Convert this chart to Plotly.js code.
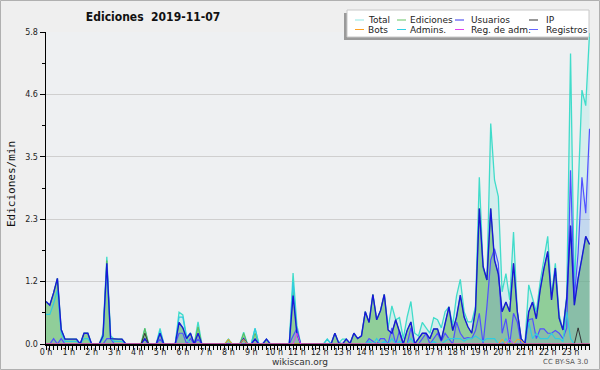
<!DOCTYPE html>
<html>
<head>
<meta charset="utf-8">
<script src="https://cdn.plot.ly/plotly-3.0.1.min.js"></script>
<style>
html,body{margin:0;padding:0;background:#efefef;}
#chart{width:600px;height:370px;}
</style>
</head>
<body>
<div id="chart"></div>
<script>
// ---- data: edits per minute, 10-minute slots, 2019-11-07 ----
var hourLabels = ["0 h","1 h","2 h","3 h","4 h","5 h","6 h","7 h","8 h","9 h","10 h","11 h",
                  "12 h","13 h","14 h","15 h","16 h","17 h","18 h","19 h","20 h","21 h","22 h","23 h"];
var yTickVals = [0, 1.16, 2.32, 3.48, 4.64, 5.8];
var yTickText = ["0.0", "1.2", "2.3", "3.5", "4.6", "5.8"];

var total = [
 0.79,0.72,0.95,1.22,0.27,0.09,  0.09,0.09,0.09,0,0.2,0.2,  0,0,0,0.2,1.62,0.15,  0.09,0.09,0.09,0,0,0,
 0,0,0.29,0,0,0,  0.29,0,0,0,0,0.59,  0.54,0.13,0.2,0,0.41,0,  0,0,0,0,0,0,
 0.09,0,0,0,0.22,0,  0,0.29,0,0,0.09,0,  0,0,0,0,0,1.32,  0.35,0,0,0,0,0,
 0,0,0.09,0,0.2,0.02,  0.09,0.09,0.01,0.2,0.1,0.15,  0.6,0.4,0.92,0.45,0.62,0.92,  0.3,0.71,0.45,0.49,0.1,0.5,
 0.79,0.2,0.15,0.4,0.3,0.2,  0.49,0.45,0.3,0.6,0.69,0.35,  0.89,1.2,0.6,0.41,0.41,0.7,  3.1,1.4,1.19,4.1,3.05,2.74,
 0.97,1.31,0.82,2.08,0.6,0.1,  0,1.1,0.85,0.6,1.15,1.55,  2.0,0.9,1.5,0.55,0.26,0.9,  5.4,1.0,2.9,4.72,4.43,5.78
];
var ediciones = [
 0.79,0.72,0.95,1.22,0.27,0.09,  0.09,0.09,0.09,0,0.2,0.2,  0,0,0,0.15,1.55,0.1,  0.09,0.09,0.09,0,0,0,
 0,0,0.29,0,0,0,  0.2,0,0,0,0,0.4,  0.3,0.1,0.2,0,0.32,0,  0,0,0,0,0,0,
 0.09,0,0,0,0.2,0,  0,0.2,0,0,0.09,0,  0,0,0,0,0,1.0,  0.25,0,0,0,0,0,
 0,0,0,0,0.2,0.02,  0,0.09,0.01,0.2,0.1,0.15,  0.6,0.4,0.92,0.45,0.62,0.92,  0.26,0.2,0.45,0.2,0,0.25,
 0.41,0,0.1,0.2,0.2,0.1,  0.28,0.28,0.07,0.4,0.69,0.25,  0.5,0.91,0.5,0.32,0.2,0.63,  2.52,1.44,1.19,2.52,1.56,1.3,
 0.6,0.78,0.6,1.5,0.6,0.1,  0,0.6,0.78,0.47,1.0,1.4,  1.72,0.82,1.41,0.48,0.26,0.85,  2.2,0.72,1.22,1.6,2.0,1.85
];
var usuarios = [
 0.79,0.72,0.95,1.22,0.27,0.09,  0.09,0.09,0.09,0,0.2,0.2,  0,0,0,0.15,1.5,0.1,  0.09,0.09,0.09,0,0,0,
 0,0,0.1,0,0,0,  0.2,0,0,0,0,0.4,  0.3,0.1,0.2,0,0.2,0,  0,0,0,0,0,0,
 0,0,0,0,0.1,0,  0,0.09,0,0,0.09,0,  0,0,0,0,0,0.9,  0.2,0,0,0,0,0,
 0,0,0,0,0.2,0.02,  0,0.09,0.01,0.2,0.1,0.15,  0.6,0.4,0.92,0.45,0.62,0.92,  0.26,0.2,0.45,0.2,0,0.25,
 0.41,0,0.1,0.2,0.2,0.1,  0.28,0.28,0.07,0.4,0.69,0.25,  0.5,0.91,0.5,0.32,0.2,0.63,  2.52,1.44,1.19,2.52,1.56,1.3,
 0.6,0.78,0.6,1.5,0.6,0.1,  0,0.6,0.78,0.47,1.0,1.4,  1.72,0.82,1.41,0.48,0.26,0.85,  2.2,0.72,1.22,1.6,2.0,1.85
];
var ip = [
 0,0,0,0,0,0,  0,0,0,0,0,0,  0,0,0,0,0,0,  0,0,0,0,0,0,
 0,0,0.2,0,0,0,  0,0,0,0,0,0,  0,0,0,0,0,0,  0,0,0,0,0,0,
 0,0,0,0,0,0,  0,0,0,0,0,0,  0,0,0,0,0,0,  0,0,0,0,0,0,
 0,0,0,0,0,0,  0,0,0,0,0,0,  0,0,0,0,0,0,  0,0,0,0,0,0,
 0,0,0,0,0,0,  0,0,0,0,0,0,  0,0,0,0,0,0,  0,0,0,0,0,0,
 0,0,0,0,0,0,  0,0,0,0,0,0,  0,0,0,0,0,0,  0,0,0.3,0,0,0
];
var bots = [
 0,0,0,0,0,0,  0,0,0,0,0,0,  0,0,0,0,0,0,  0,0,0,0,0,0,
 0,0,0,0,0,0,  0,0,0,0,0,0,  0,0,0,0,0,0,  0,0,0,0,0,0,
 0.09,0,0,0,0.09,0,  0,0,0,0,0,0,  0,0,0,0,0,0,  0,0,0,0,0,0,
 0,0,0,0,0,0,  0,0,0,0,0,0,  0,0,0,0,0,0,  0,0,0,0,0,0,
 0,0,0,0,0,0,  0,0,0,0,0,0,  0,0,0,0,0,0,  0,0,0,0,0,0,
 0.09,0,0,0,0.09,0.07,  0,0,0,0,0,0,  0,0,0,0,0,0,  0,0,0,0,0,0
];
var admins = [
 0.55,0.55,0.75,1.0,0.2,0.05,  0.05,0.05,0.05,0,0.1,0.1,  0,0,0,0.1,1.45,0.1,  0.05,0.05,0.05,0,0,0,
 0,0,0,0,0,0,  0.25,0,0,0,0,0.5,  0.5,0.1,0,0,0,0,  0,0,0,0,0,0,
 0,0,0,0,0,0,  0,0.29,0,0,0,0,  0,0,0,0,0,1.15,  0.2,0,0,0,0,0,
 0,0,0.09,0,0,0,  0,0,0,0,0,0,  0,0.05,0,0.1,0,0.05,  0,0.1,0,0.05,0,0,
 0.1,0,0,0,0,0,  0.05,0,0,0.05,0.1,0.1,  0.1,0.1,0.05,0.1,0.1,0.15,  0.1,0.05,0.1,0.1,0.1,0,
 0,0.1,0,0,0,0,  0,0.41,0.1,0.2,0.1,0.1,  0.1,0.2,0.1,0.1,0.05,0.6,  0.1,0,0,0,0,0
];
var regAdm = [
 0,0,0,0,0,0,  0,0,0,0,0,0,  0,0,0,0,0,0,  0,0,0,0,0,0,
 0,0,0,0,0,0,  0,0,0,0,0,0,  0,0,0,0,0,0,  0,0,0,0,0,0,
 0,0,0,0,0,0,  0,0,0,0,0,0,  0,0,0,0,0,0,  0.2,0,0,0,0,0,
 0,0,0,0,0,0,  0,0,0,0,0,0,  0,0,0,0,0,0,  0,0,0,0,0,0,
 0,0,0,0,0,0,  0,0,0,0,0,0,  0,0,0,0,0,0,  0,0,0,0,0,0,
 0,0,0.09,0,0,0,  0,0,0,0,0,0,  0,0,0,0,0,0,  0,0,0,0,0,0
];
var registros = [
 0,0,0.1,0,0.1,0,  0,0,0,0,0,0,  0,0,0,0,0.1,0.1,  0,0,0,0,0,0,
 0,0,0.09,0,0,0,  0.09,0,0,0,0,0.2,  0.2,0,0.1,0,0.09,0,  0,0,0,0,0,0,
 0,0,0,0,0,0,  0,0.09,0,0,0,0,  0,0,0,0,0,0.15,  0.29,0,0,0,0,0,
 0,0,0,0,0,0,  0,0,0,0,0,0,  0,0.1,0.05,0,0.1,0.1,  0,0.3,0,0.25,0,0,
 0.3,0,0,0.1,0.2,0,  0.1,0.2,0.05,0.2,0.1,0,  0.41,0.2,0.1,0.12,0.1,0.25,  0.57,0,0.7,1.56,1.77,1.5,
 0.2,0.47,0,0.57,0.41,0,  0,0.45,0.47,0.1,0.28,0.28,  0.2,0.2,0.25,0.2,0.1,0.3,  3.23,0.85,1.7,3.1,2.43,4.0
];

// legend names / colours (display order)
var legendNames  = ["Total","Ediciones","Usuarios","IP","Bots","Admins.","Reg. de adm.","Registros"];
var legendColors = ["#8fe6e2","#66c466","#3535ee","#333333","#ffa020","#30d0e4","#e040f0","#6666ff"];

// time axis: one slot every 10 minutes, in hours
var slotHours = total.map(function(_, i){ return i / 6; });

var traces = [
  {name:"Total", x:slotHours, y:total, mode:"lines", fill:"tozeroy",
   fillcolor:"rgba(64,224,208,0.15)", line:{color:"#40dcca", width:1.3}},
  {name:"Ediciones", x:slotHours, y:ediciones, mode:"lines", fill:"tozeroy",
   fillcolor:"rgba(110,190,110,0.66)", line:{color:"#5cbc5c", width:1}},
  {name:"Registros", x:slotHours, y:registros, mode:"lines", fill:"tozeroy",
   fillcolor:"rgba(100,100,255,0.15)", line:{color:"#5050ff", width:1.2}},
  {name:"Admins.", x:slotHours, y:admins, mode:"lines", line:{color:"#30cce0", width:1.2}},
  {name:"Usuarios", x:slotHours, y:usuarios, mode:"lines", line:{color:"#1818d8", width:1.4}},
  {name:"IP", x:slotHours, y:ip, mode:"lines", line:{color:"#333333", width:1}},
  {name:"Bots", x:slotHours, y:bots, mode:"lines", line:{color:"#ffa020", width:1}},
  {name:"Reg. de adm.", x:slotHours, y:regAdm, mode:"lines", line:{color:"#e040f0", width:1}}
];
traces.forEach(function(t){ t.showlegend = false; t.hoverinfo = "skip"; });

// pixel helpers for decorations (plot area: x 46..590, y 32..344)
var L = 46, R = 10, T = 32, B = 26, W = 600, H = 370;
var PW = W - L - R, PH = H - T - B;
function px(x){ return (x - L) / PW; }
function py(y){ return (H - B - y) / PH; }

var shapes = [
  // outer frame
  {type:"rect", xref:"paper", yref:"paper", x0:px(0.5), x1:px(599.5), y0:py(369.5), y1:py(0.5),
   line:{color:"#b0b0b0", width:1}, fillcolor:"rgba(0,0,0,0)", layer:"above"},
  // legend shadow + box
  {type:"rect", xref:"paper", yref:"paper", x0:px(344), x1:px(588), y0:py(40), y1:py(13),
   line:{width:0}, fillcolor:"#9a9a9a", layer:"above"},
  {type:"rect", xref:"paper", yref:"paper", x0:px(347), x1:px(589), y0:py(37), y1:py(10),
   line:{color:"#c8c8c8", width:1}, fillcolor:"#ffffff", layer:"above"}
];
var annotations = [
  {text:"wikiscan.org", xref:"paper", yref:"paper", x:px(300), y:py(362), showarrow:false,
   xanchor:"center", yanchor:"middle", font:{family:"DejaVu Sans", size:9, color:"#333"}},
  {text:"CC BY-SA 3.0", xref:"paper", yref:"paper", x:px(590), y:py(362), showarrow:false,
   xanchor:"right", yanchor:"middle", font:{family:"DejaVu Sans", size:7, color:"#555"}},
  {text:"Ediciones/min", xref:"paper", yref:"paper", x:px(11), y:py(184), showarrow:false,
   textangle:-90, xanchor:"center", yanchor:"middle",
   font:{family:"DejaVu Sans Mono", size:11, color:"#111"}}
];
// legend entries
var colSample = [355, 397, 455, 529];
var colText = [366, 408, 469, 544];
var rowY = [20, 29.5];
legendNames.forEach(function(n, k){
  var c = k % 4, r = Math.floor(k / 4);
  shapes.push({type:"line", xref:"paper", yref:"paper", x0:px(colSample[c]), x1:px(colSample[c] + 9),
    y0:py(rowY[r]), y1:py(rowY[r]), line:{color:legendColors[k], width:1}, layer:"above"});
  annotations.push({text:n, xref:"paper", yref:"paper", x:px(colText[c]), y:py(rowY[r]),
    showarrow:false, xanchor:"left", yanchor:"middle",
    font:{family:"DejaVu Sans", size:9, color:"#222"}});
});

var layout = {
  width:W, height:H,
  margin:{l:L, r:R, t:T, b:B, pad:0},
  paper_bgcolor:"#efefef", plot_bgcolor:"#eef0f2",
  showlegend:false,
  title:{text:"Ediciones\u00a0\u00a02019-11-07", x:153/600, xanchor:"center", xref:"container",
         y:1 - 17/370, yanchor:"middle", yref:"container",
         font:{family:"DejaVu Sans Condensed, DejaVu Sans", size:12, weight:"bold", color:"#111"}},
  xaxis:{range:[0, 143/6 + 0.02], tickmode:"array",
         tickvals:hourLabels.map(function(_, h){ return h; }), ticktext:hourLabels,
         ticks:"outside", ticklen:4, tickwidth:1, tickcolor:"#000", ticklabelstandoff:-4,
         showline:true, linecolor:"#000", linewidth:1.5, showgrid:false, zeroline:false,
         tickfont:{family:"DejaVu Sans", size:8, color:"#222"},
         minor:{tickmode:"linear", tick0:0, dtick:1/6, ticks:"outside", ticklen:4, tickcolor:"#000", showgrid:false},
         fixedrange:true},
  yaxis:{range:[0, 5.8], tickmode:"array", tickvals:yTickVals, ticktext:yTickText,
         ticks:"outside", ticklen:5, tickwidth:1, tickcolor:"#000",
         showline:true, linecolor:"#000", linewidth:1.5,
         showgrid:true, gridcolor:"#cfcfcf", gridwidth:1, zeroline:false,
         tickfont:{family:"DejaVu Sans", size:8, color:"#222"},
         minor:{tickmode:"linear", tick0:0, dtick:0.58, ticks:"outside", ticklen:3, tickcolor:"#000", showgrid:false},
         fixedrange:true},
  shapes:shapes,
  annotations:annotations
};

Plotly.newPlot("chart", traces, layout, {displayModeBar:false, staticPlot:true});
</script>
</body>
</html>
